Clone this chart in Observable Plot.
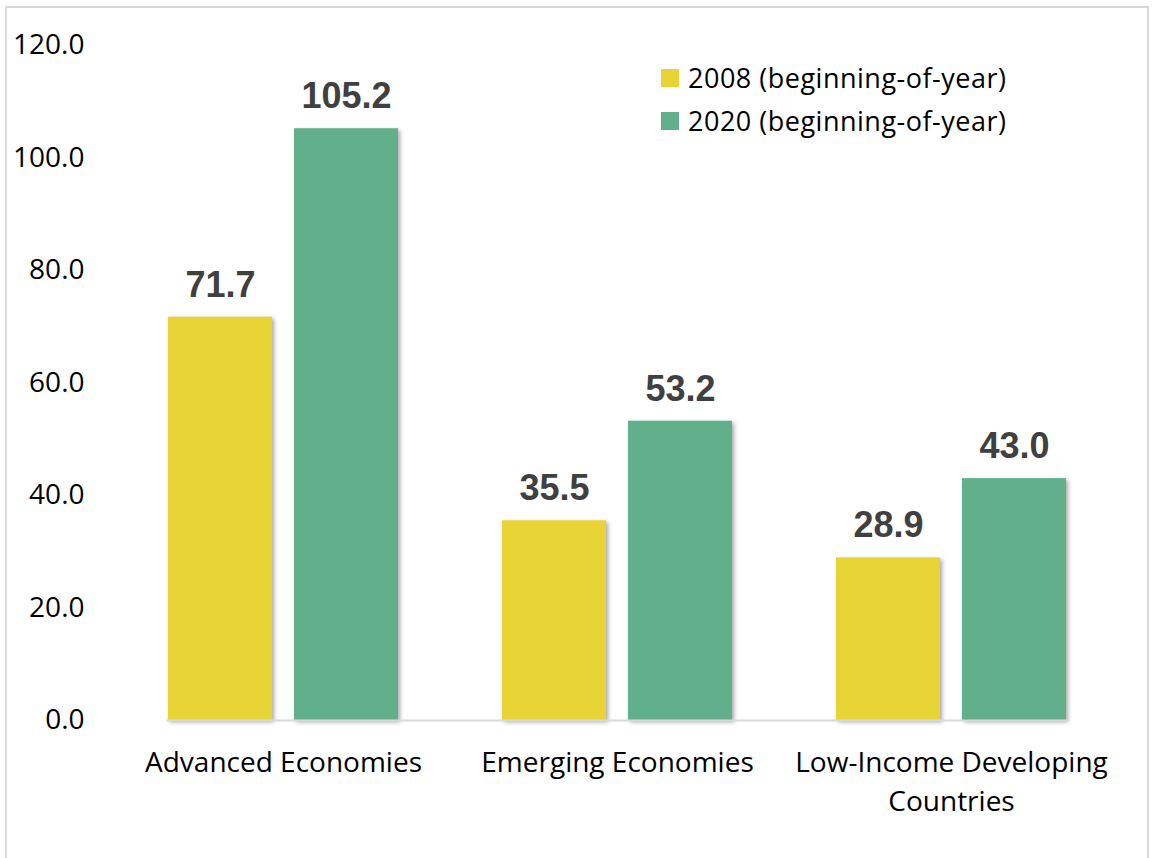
<!DOCTYPE html>
<html>
<head>
<meta charset="utf-8">
<script src="https://cdn.jsdelivr.net/npm/d3@7"></script>
<script src="https://cdn.jsdelivr.net/npm/@observablehq/plot@0.6"></script>
<style>
  html, body { margin: 0; padding: 0; background: #fff; }
  #wrap { position: relative; width: 1152px; height: 858px; overflow: hidden; }
  #frame { position: absolute; left: 5px; top: 6px; width: 1144px; height: 860px; border: 2px solid #d9d9d9; box-sizing: border-box; }
  #chart { position: absolute; left: 0; top: 0; }
  .bars rect { filter: drop-shadow(2px 2px 2px rgba(0,0,0,0.35)); }
  #legend { position: absolute; left: 661px; top: 56px; font-family: "Open Sans", sans-serif; font-size: 27px; letter-spacing: 0.5px; color: #000; }
  #legend .row { display: flex; align-items: center; height: 43px; }
  #legend .sw { width: 18px; height: 18px; margin-right: 9px; }
</style>
</head>
<body>
<div id="wrap">
  <div id="frame"></div>
  <div id="chart"></div>
  <div id="legend"></div>
</div>
<script>
const categories = ["Advanced Economies", "Emerging Economies", "Low-Income Developing Countries"];
const categoryLabels = ["Advanced Economies", "Emerging Economies", "Low-Income Developing\nCountries"];
const series = ["2008 (beginning-of-year)", "2020 (beginning-of-year)"];
const values2008 = [71.7, 35.5, 28.9];
const values2020 = [105.2, 53.2, 43.0];
const yTicks = [0, 20, 40, 60, 80, 100, 120];
const colors = ["#E8D535", "#62AF8B"];

const data = [];
categories.forEach((c, i) => {
  data.push({category: c, series: series[0], value: values2008[i]});
  data.push({category: c, series: series[1], value: values2020[i]});
});

const chart = Plot.plot({
  width: 1152,
  height: 858,
  marginLeft: 115,
  marginRight: 34,
  marginTop: 45,
  marginBottom: 138,
  style: {background: "transparent", fontFamily: "'Open Sans', sans-serif"},
  fx: {domain: categories, paddingInner: 0.306, paddingOuter: 0.153, label: null},
  x: {domain: series, paddingInner: 0.173, paddingOuter: 0, axis: null},
  y: {domain: [0, 120], label: null},
  color: {domain: series, range: colors},
  marks: [
    Plot.axisY({ticks: yTicks, tickSize: 0, tickPadding: 83, tickFormat: d => d.toFixed(1), fontSize: 28, fill: "#000", label: null}),
    Plot.axisFx({anchor: "bottom", tickSize: 0, tickPadding: 24, fontSize: 28, fill: "#000", label: null, lineHeight: 1.38,
      tickFormat: d => categoryLabels[categories.indexOf(d)]}),
    Plot.barY(data, {fx: "category", x: "series", y: "value", fill: "series", className: "bars"}),
    Plot.frame({anchor: "bottom", stroke: "#d9d9d9", strokeWidth: 2, facet: "super"}),
    Plot.text(data, {fx: "category", x: "series", y: "value", text: d => d.value.toFixed(1), dy: -32,
      fontSize: 36, fontWeight: "bold", fill: "#404040", fontFamily: "'Liberation Sans', Arial, sans-serif"})
  ]
});
document.getElementById("chart").appendChild(chart);

const legend = document.getElementById("legend");
series.forEach((s, i) => {
  const row = document.createElement("div");
  row.className = "row";
  const sw = document.createElement("div");
  sw.className = "sw";
  sw.style.background = colors[i];
  const lab = document.createElement("span");
  lab.textContent = s;
  row.appendChild(sw);
  row.appendChild(lab);
  legend.appendChild(row);
});
</script>
</body>
</html>
